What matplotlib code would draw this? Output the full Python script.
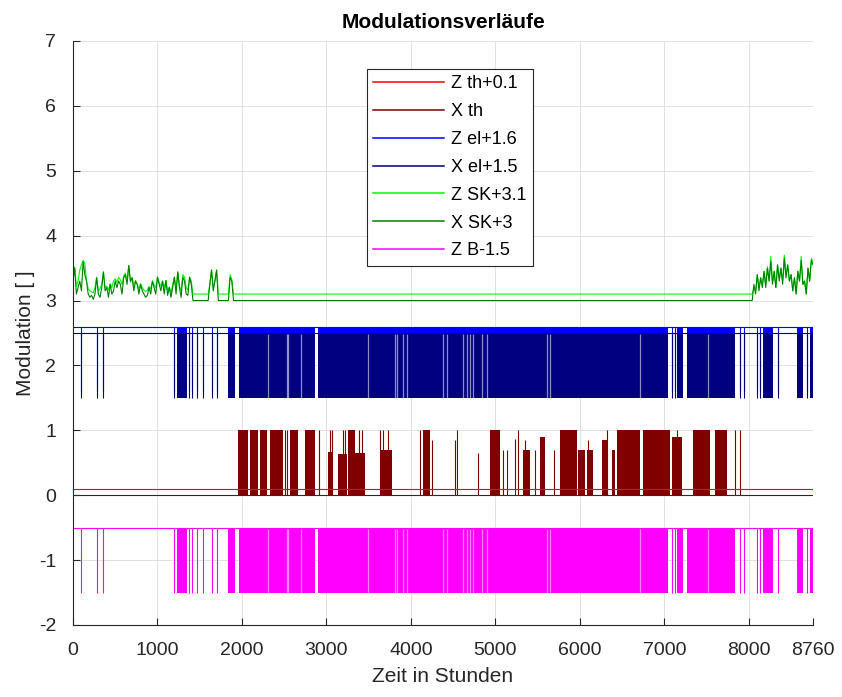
import numpy as np
import matplotlib
matplotlib.use("Agg")
import matplotlib.pyplot as plt

plt.rcParams['font.family'] = ['Liberation Sans', 'DejaVu Sans']
plt.rcParams['axes.unicode_minus'] = False

HOURS = 8760

# --- Schaltmuster fuer el und B (1 = an, 0 = aus) ---
schalt_einzeln = [91, 280, 359, 1200, 1377, 1413, 1464, 1543, 1649, 1708,
                  7087, 7126, 7896, 7943, 8093, 8133, 8349, 8685]
schalt_dicht = [(1227, 1345), (1839, 1918), (1969, 2865), (2900, 7044), (7146, 7225),
                (7265, 7837), (8172, 8290), (8567, 8646), (8720, 8760)]
schalt_luecken = [2308, 2530, 2549, 2697, 3496, 3812, 3832, 3910, 3950, 4384, 4424,
                  4621, 4660, 4700, 4739, 4838, 4897, 5607, 5647, 6712, 7520]

# --- X th: Bloecke (start, ende, hoehe) und Einzelspitzen (stunde, hoehe) ---
xth_bloecke = [(1957, 2076, 1.0), (2095, 2194, 1.0), (2214, 2293, 1.0), (2332, 2490, 1.0),
               (2569, 2668, 1.0), (2747, 2865, 1.0), (3022, 3062, 0.66), (3141, 3240, 0.64),
               (3260, 3338, 1.0), (3338, 3457, 0.65), (3634, 3772, 0.7), (4147, 4226, 1.0),
               (4937, 5055, 1.0), (5331, 5410, 0.7), (5528, 5588, 0.9), (5765, 5962, 1.0),
               (5982, 6061, 0.7), (6081, 6160, 0.7), (6258, 6337, 0.85), (6376, 6416, 0.7),
               (6436, 6712, 1.0), (6751, 7067, 1.0), (7087, 7205, 0.9), (7343, 7541, 1.0),
               (7600, 7738, 1.0)]
xth_spitzen = [(2510, 1.0), (2530, 1.0), (2916, 1.0), (3042, 1.0), (3062, 1.0), (3200, 1.0),
               (3220, 1.0), (3380, 1.0), (3420, 1.0), (3634, 1.0), (3674, 1.0), (3733, 1.0),
               (4108, 1.0), (4254, 0.85), (4522, 0.85), (4542, 1.0), (4798, 0.65), (5015, 1.0),
               (5094, 0.7), (5134, 0.7), (5233, 0.87), (5272, 1.0), (5351, 0.85), (5469, 0.7),
               (5694, 0.7), (6100, 0.85), (6317, 1.0), (7146, 1.0), (7837, 1.0), (7896, 1.0)]

# --- SK: Abschnitte mit Startstunde, Schrittweite 20 h ---
sk_schritt = 20
sk_start = [0, 1600, 1840, 8040]
z_sk = [
    [0.25, 0.42, 0.12, 0.2, 0.37, 0.45, 0.52, 0.47, 0.2, 0.08, 0.05, 0.03, 0.02, 0.1, 0.26,
     0.05, 0.08, 0.15, 0.34, 0.1, 0.12, 0.06, 0.16, 0.1, 0.2, 0.24, 0.18, 0.26, 0.22, 0.15,
     0.28, 0.32, 0.2, 0.44, 0.18, 0.26, 0.12, 0.21, 0.15, 0.08, 0.16, 0.1, 0.06, 0.04, 0.06,
     0.12, 0.08, 0.2, 0.14, 0.1, 0.26, 0.18, 0.12, 0.2, 0.1, 0.21, 0.05, 0.11, 0.02, 0.15,
     0.26, 0.08, 0.34, 0.12, 0.05, 0.3, 0.26, 0.1, 0.06, 0.26, 0.2, 0.0],
    [0.0, 0.15, 0.37, 0.1, 0.2, 0.37, 0.0],
    [0.0, 0.3, 0.22, 0.0],
    [0.0, 0.1, 0.05, 0.3, 0.1, 0.25, 0.15, 0.35, 0.15, 0.42, 0.2, 0.58, 0.2, 0.35, 0.1,
     0.45, 0.25, 0.4, 0.2, 0.6, 0.3, 0.45, 0.2, 0.3, 0.05, 0.25, 0.0, 0.35, 0.2, 0.58,
     0.15, 0.2, 0.0, 0.4, 0.2, 0.55, 0.5],
]
x_sk = [
    [0.3, 0.5, 0.1, 0.2, 0.3, 0.15, 0.6, 0.4, 0.3, 0.1, 0.05, 0.08, 0.02, 0.1, 0.35, 0.1,
     0.05, 0.2, 0.44, 0.15, 0.2, 0.05, 0.25, 0.1, 0.15, 0.3, 0.2, 0.3, 0.25, 0.1, 0.35, 0.4,
     0.25, 0.54, 0.3, 0.35, 0.15, 0.3, 0.25, 0.1, 0.25, 0.15, 0.1, 0.05, 0.08, 0.2, 0.1,
     0.3, 0.2, 0.1, 0.36, 0.25, 0.15, 0.3, 0.1, 0.31, 0.08, 0.2, 0.05, 0.2, 0.36, 0.1,
     0.44, 0.2, 0.05, 0.36, 0.3, 0.1, 0.08, 0.36, 0.25, 0.0],
    [0.0, 0.26, 0.47, 0.15, 0.3, 0.47, 0.0],
    [0.0, 0.36, 0.3, 0.0],
    [0.0, 0.25, 0.1, 0.4, 0.15, 0.35, 0.2, 0.45, 0.2, 0.5, 0.3, 0.6, 0.25, 0.45, 0.2, 0.55,
     0.3, 0.5, 0.25, 0.65, 0.35, 0.55, 0.3, 0.4, 0.15, 0.35, 0.1, 0.45, 0.3, 0.62, 0.25,
     0.3, 0.1, 0.5, 0.3, 0.62, 0.55],
]

# Offsets laut Legende
off_zth, off_xth = 0.1, 0.0
off_zel, off_xel = 1.6, 1.5
off_zsk, off_xsk = 3.1, 3.0
off_zb = -1.5

C_ZTH, C_XTH = (1, 0, 0), (0.5, 0, 0)
C_ZEL, C_XEL = (0, 0, 1), (0, 0, 0.5)
C_ZSK, C_XSK = (0, 1, 0), (0, 0.5, 0)
C_ZB = (1, 0, 1)
LW = 0.8


def schalt_zeichnen(ax, oben, unten, farbe, label):
    ax.plot([0, HOURS], [oben, oben], color=farbe, lw=LW, label=label)
    ax.vlines(schalt_einzeln, unten, oben, color=farbe, lw=LW)
    for s, e in schalt_dicht:
        ax.fill_between([s, e], unten, oben, color=farbe, lw=0)


def sk_reihe(abschnitte):
    h = np.concatenate([[s + sk_schritt * i for i in range(len(w))]
                        for s, w in zip(sk_start, abschnitte)])
    return h, np.concatenate(abschnitte)


fig = plt.figure(figsize=(8.42, 6.97), dpi=100)
ax = fig.add_axes([0.0867, 0.1033, 0.8789, 0.8379])

# Z th / X th
ax.plot([0, HOURS], [off_zth, off_zth], color=C_ZTH, lw=LW, label='Z th+0.1', zorder=5)
ax.plot([0, HOURS], [off_xth, off_xth], color=C_XTH, lw=LW, label='X th')
for s, e, hh in xth_bloecke:
    ax.fill_between([s, e], off_xth, off_xth + hh, color=C_XTH, lw=0)
sp_h = [p[0] for p in xth_spitzen]
sp_v = [off_xth + p[1] for p in xth_spitzen]
ax.vlines(sp_h, off_xth, sp_v, color=C_XTH, lw=LW)

# Z el / X el
schalt_zeichnen(ax, off_zel + 1, off_zel, C_ZEL, 'Z el+1.6')
schalt_zeichnen(ax, off_xel + 1, off_xel, C_XEL, 'X el+1.5')
ax.vlines(schalt_luecken, off_xel, off_xel + 0.98, color='white', lw=0.9, alpha=0.55)

# Z SK / X SK
hz, vz = sk_reihe(z_sk)
hx, vx = sk_reihe(x_sk)
ax.plot(hz, vz + off_zsk, color=C_ZSK, lw=LW, label='Z SK+3.1')
ax.plot(hx, vx + off_xsk, color=C_XSK, lw=LW, label='X SK+3')

# Z B
schalt_zeichnen(ax, off_zb + 1, off_zb, C_ZB, 'Z B-1.5')
ax.vlines(schalt_luecken, off_zb, off_zb + 0.98, color='white', lw=0.9, alpha=0.5)

ax.set_xlim(0, HOURS)
ax.set_ylim(-2, 7)
ax.set_xticks(list(range(0, 8001, 1000)) + [HOURS])
ax.set_yticks(range(-2, 8))
ax.grid(True, color='#dcdcdc', lw=0.6)
ax.set_axisbelow(True)
for sp in ['top', 'right']:
    ax.spines[sp].set_visible(False)
for sp in ['left', 'bottom']:
    ax.spines[sp].set_color('#262626')
    ax.spines[sp].set_linewidth(0.8)
ax.tick_params(direction='in', length=5, width=0.8, color='#262626',
               labelcolor='#262626', labelsize=14)
ax.tick_params(axis='x', pad=12)
ax.tick_params(axis='y', pad=12)

ax.set_title('Modulationsverläufe', fontsize=15, fontweight='bold', pad=9)
ax.set_xlabel('Zeit in Stunden', fontsize=15, color='#262626', labelpad=6)
ax.set_ylabel('Modulation [ ]', fontsize=15, color='#262626', labelpad=3)

leg = ax.legend(loc='upper left', bbox_to_anchor=(0.397, 0.952), fontsize=13,
                frameon=True, fancybox=False, framealpha=1, edgecolor='#262626',
                handlelength=3.9, handletextpad=0.4, borderpad=0.35, labelspacing=0.6,
                borderaxespad=0)
leg.get_frame().set_linewidth(0.8)
for ln in leg.get_lines():
    ln.set_linewidth(1.1)

fig.savefig('out.png', dpi=100)
